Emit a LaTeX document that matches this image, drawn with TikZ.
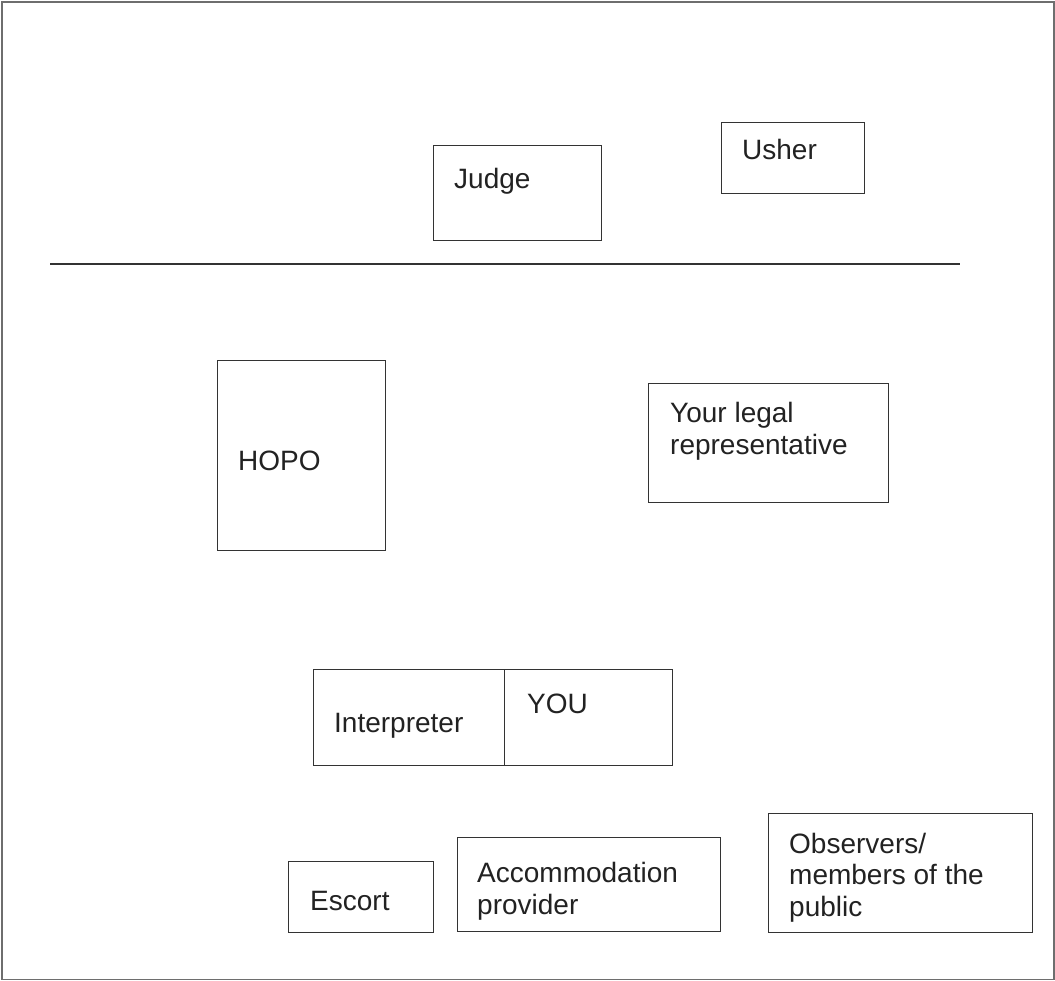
\documentclass[tikz,border=0pt]{standalone}
\usepackage{fontspec}
\setmainfont{Liberation Sans}
\definecolor{boxline}{HTML}{333333}
\definecolor{frameline}{HTML}{6E6E6E}
\definecolor{txt}{HTML}{222222}
\tikzset{
  room/.style={draw=boxline, line width=1.1pt, inner sep=0pt, fill=none, anchor=north west},
  lbl/.style={anchor=base west, inner sep=0pt, align=left, text=txt,
    font=\fontsize{28}{31.5}\selectfont},
}
\begin{document}
\begin{tikzpicture}[x=1pt,y=-1pt]
\useasboundingbox (0,0) rectangle (1055,981);
% outer frame
\coordinate (ftr) at (1054,2);
\coordinate (ftl) at (2,2);
\coordinate (fbl) at (2,979.5);
\coordinate (fbr) at (1054,979.5);
\draw[frameline, line width=1.6pt] (ftl) -- (ftr) -- (fbr) -- (fbl) -- cycle;
% bench line
\coordinate (bl) at (50,264);
\coordinate (br) at (960,264);
\draw[boxline, line width=1.2pt] (bl) -- (br);
% boxes
\node[room, minimum width=168pt, minimum height=95pt] (judge) at (433,145) {};
\node[lbl] (tjudge) at (454,189) {Judge};
\node[room, minimum width=143pt, minimum height=71pt] (usher) at (721,122) {};
\node[lbl] (tusher) at (742,160) {Usher};
\node[room, minimum width=168pt, minimum height=190pt] (hopo) at (217,360) {};
\node[lbl] (thopo) at (238,470) {HOPO};
\node[room, minimum width=240pt, minimum height=119pt] (legal) at (648,383) {};
\node[lbl] (tlegal) at (670,454) {Your legal\\representative};
\node[room, minimum width=191pt, minimum height=96pt] (interp) at (313,669) {};
\node[lbl] (tinterp) at (334,732) {Interpreter};
\node[room, minimum width=168pt, minimum height=96pt] (you) at (504,669) {};
\node[lbl] (tyou) at (527,713) {YOU};
\node[room, minimum width=145pt, minimum height=71pt] (escort) at (288,861) {};
\node[lbl] (tescort) at (310,910) {Escort};
\node[room, minimum width=263pt, minimum height=94pt] (accom) at (457,837) {};
\node[lbl] (taccom) at (477,914) {Accommodation\\provider};
\node[room, minimum width=264pt, minimum height=119pt] (observ) at (768,813) {};
\node[lbl] (tobserv) at (789,916) {Observers/\\members of the\\public};
\end{tikzpicture}
\end{document}
